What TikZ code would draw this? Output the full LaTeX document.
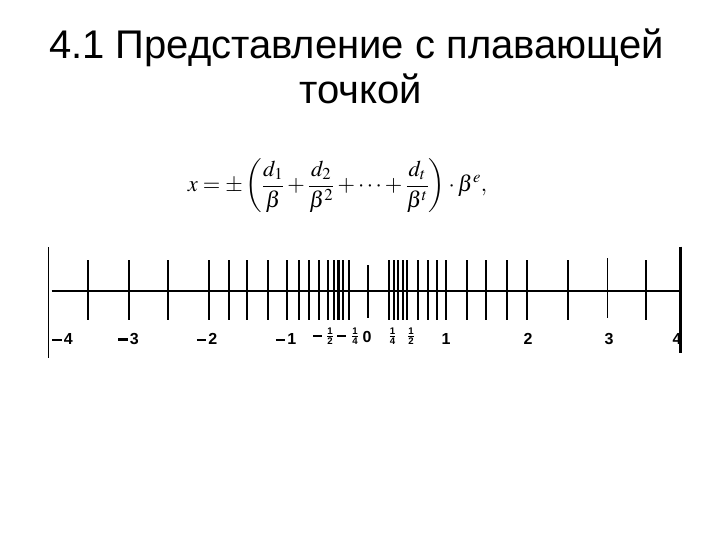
\documentclass[tikz,border=0pt]{standalone}
\usepackage{mathptmx}
\usepackage{amsmath}
\usepackage[no-math]{fontspec}
\newfontfamily\arial{Liberation Sans}
\newcommand{\mn}{\rule[3.6pt]{9.5pt}{2.4pt}\kern2pt}
\newcommand{\smn}{\rule[0pt]{9pt}{1.8pt}}
\newcommand{\fr}[2]{$\frac{\text{#1}}{\text{#2}}$}
\tikzset{
  px/.style={x=1pt,y=-1pt},
  tk/.style={line width=2.2pt,black},
  tkthin/.style={line width=1.2pt,black},
  axisline/.style={line width=1.8pt,black},
  lab/.style={font=\arial\bfseries\fontsize{16}{18}\selectfont,inner sep=0pt},
  flab/.style={font=\arial\bfseries\fontsize{13}{15}\selectfont,inner sep=0pt},
  title/.style={font=\arial\fontsize{40}{46}\selectfont,inner sep=0pt,anchor=base}
}
\begin{document}
\begin{tikzpicture}[px]
\useasboundingbox (0,0) rectangle (720,540);
% title
\node[title] (t1) at (356.5,59) {4.1 Представление с плавающей};
\node[title] (t2) at (361,104) {точкой};
% formula
\node[inner sep=0pt] (f) at (337.5,186) {\fontsize{22.5}{27}\selectfont
  $\displaystyle x=\pm\left(\frac{d_1}{\beta}+\frac{d_2}{\beta^2}+\cdots+\frac{d_t}{\beta^t}\right)\cdot\beta^e,$};
% labels
\node[lab] (lm4) at (62.5,339) {\mn4};
\node[lab] (lm3) at (128.5,339) {\mn3};
\node[lab] (lm2) at (207,339) {\mn2};
\node[lab] (lm1) at (286,339) {\mn1};
\node[flab] (mh) at (317.5,336.3) {\smn};
\node[flab] (lmh) at (330,336) {\fr{1}{2}};
\node[flab] (mq) at (341.7,336) {\smn};
\node[flab] (lmq) at (355,336) {\fr{1}{4}};
\node[lab] (l0) at (367,337) {0};
\node[flab] (lq) at (392.5,336) {\fr{1}{4}};
\node[flab] (lh) at (411,336) {\fr{1}{2}};
\node[lab] (l1) at (446,339) {1};
\node[lab] (l2) at (528,339) {2};
\node[lab] (l3) at (609,339) {3};
\node[lab] (l4) at (677,339) {4};
% frame lines
\coordinate (la) at (48.3,247);
\coordinate (lb) at (48.3,358);
\coordinate (ra) at (680.7,246.7);
\coordinate (rb) at (680.7,352.7);
\draw[line width=1.4pt] (la) -- (lb);
\draw[line width=3pt] (ra) -- (rb);
% axis
\coordinate (a0) at (51.7,290.7);
\coordinate (a1) at (680.7,290.7);
\draw[axisline] (a0) -- (a1);
% ticks
\foreach \x in {88.3,129,167.7,209,229,247.3,267.7,287.3,299.3,309.3,319.3,328.3,334.3,338.5,342.7,349.3,
                388.7,394,398.3,402.7,406.7,417.7,427.7,437.3,445.7,466.7,486,506.7,526.7,645.7}
  \draw[tk] (\x,260) -- (\x,320);
\draw[tkthin] (368,265) -- (368,318);
\draw[line width=1.6pt] (567.7,260) -- (567.7,320);
\draw[tkthin] (607.7,258) -- (607.7,318);
\end{tikzpicture}
\end{document}
